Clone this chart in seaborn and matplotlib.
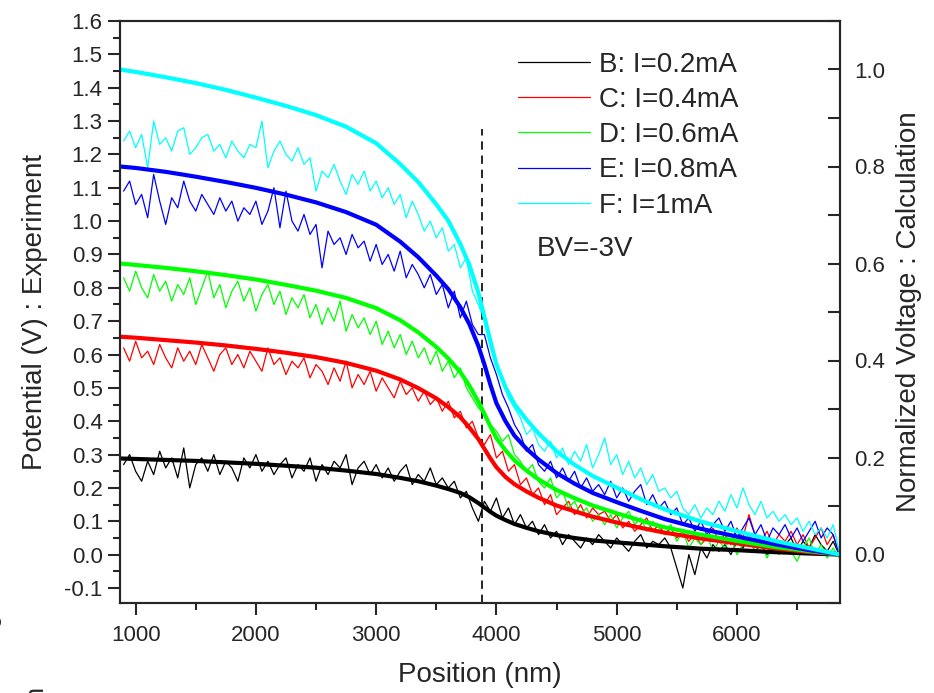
import numpy as np
import matplotlib
matplotlib.use("Agg")
import matplotlib.pyplot as plt
import seaborn as sns
from matplotlib.ticker import MultipleLocator, FormatStrFormatter

sns.set_style("ticks")
plt.rcParams['font.family'] = ['Liberation Sans', 'DejaVu Sans']
plt.rcParams['axes.unicode_minus'] = False

# ---------------- data ----------------
# experimental sample positions (nm)
pos_exp = np.arange(900, 6851, 50)

exp_B = [0.27, 0.30, 0.25, 0.22, 0.28, 0.24, 0.31, 0.26, 0.29, 0.23,
         0.32, 0.20, 0.27, 0.29, 0.25, 0.30, 0.24, 0.28, 0.26, 0.22,
         0.29, 0.26, 0.30, 0.25, 0.28, 0.24, 0.27, 0.29, 0.23, 0.27,
         0.25, 0.29, 0.22, 0.27, 0.24, 0.28, 0.26, 0.30, 0.21, 0.26,
         0.28, 0.24, 0.27, 0.23, 0.26, 0.22, 0.25, 0.27, 0.21, 0.24,
         0.22, 0.26, 0.21, 0.23, 0.20, 0.22, 0.17, 0.19, 0.14, 0.10,
         0.16, 0.13, 0.17, 0.11, 0.14, 0.09, 0.12, 0.08, 0.10, 0.06,
         0.09, 0.05, 0.07, 0.03, 0.06, 0.04, 0.02, 0.05, 0.03, 0.06,
         0.04, 0.02, 0.05, 0.03, 0.01, 0.04, 0.06, 0.02, 0.04, 0.03,
         0.05, 0.02, -0.04, -0.10, 0.00, -0.06, 0.02, -0.01, 0.03, 0.01,
         0.03, 0.00, 0.04, 0.02, 0.05, 0.01, 0.03, 0.00, 0.04, 0.02,
         0.03, 0.05, 0.01, 0.04, 0.02, 0.06, 0.03, 0.01, 0.04, 0.00]

exp_C = [0.62, 0.58, 0.64, 0.59, 0.61, 0.57, 0.63, 0.59, 0.56, 0.62,
         0.58, 0.61, 0.57, 0.63, 0.59, 0.55, 0.60, 0.62, 0.57, 0.60,
         0.56, 0.61, 0.58, 0.55, 0.62, 0.57, 0.59, 0.54, 0.58, 0.56,
         0.59, 0.53, 0.57, 0.55, 0.51, 0.56, 0.52, 0.58, 0.50, 0.54,
         0.51, 0.55, 0.49, 0.53, 0.50, 0.47, 0.52, 0.48, 0.50, 0.46,
         0.49, 0.45, 0.47, 0.43, 0.46, 0.41, 0.43, 0.38, 0.40, 0.35,
         0.33, 0.36, 0.29, 0.31, 0.25, 0.27, 0.21, 0.23, 0.18, 0.20,
         0.15, 0.18, 0.12, 0.14, 0.16, 0.12, 0.15, 0.11, 0.14, 0.12,
         0.13, 0.10, 0.12, 0.08, 0.10, 0.07, 0.09, 0.11, 0.07, 0.09,
         0.06, 0.08, 0.05, 0.07, 0.04, 0.06, 0.03, 0.05, 0.08, 0.04,
         0.06, 0.03, 0.08, 0.05, 0.12, 0.06, 0.04, 0.07, 0.03, 0.06,
         0.04, 0.07, 0.03, 0.06, 0.02, 0.05, 0.08, 0.03, 0.06, 0.00]

exp_D = [0.83, 0.79, 0.85, 0.80, 0.77, 0.84, 0.79, 0.82, 0.76, 0.81,
         0.78, 0.83, 0.75, 0.80, 0.85, 0.77, 0.81, 0.74, 0.79, 0.82,
         0.76, 0.80, 0.73, 0.78, 0.81, 0.75, 0.79, 0.72, 0.77, 0.74,
         0.78, 0.71, 0.75, 0.69, 0.74, 0.70, 0.76, 0.67, 0.72, 0.68,
         0.71, 0.66, 0.70, 0.63, 0.67, 0.62, 0.66, 0.60, 0.64, 0.59,
         0.62, 0.57, 0.61, 0.55, 0.58, 0.53, 0.56, 0.50, 0.47, 0.44,
         0.42, 0.39, 0.37, 0.34, 0.36, 0.30, 0.28, 0.25, 0.27, 0.22,
         0.20, 0.23, 0.17, 0.19, 0.14, 0.16, 0.12, 0.14, 0.10, 0.12,
         0.09, 0.12, 0.08, 0.11, 0.13, 0.09, 0.11, 0.07, 0.10, 0.08,
         0.06, 0.09, 0.04, 0.07, 0.02, 0.05, 0.03, 0.06, 0.01, 0.04,
         0.02, 0.05, 0.00, 0.03, 0.06, 0.01, 0.04, -0.01, 0.03, 0.00,
         0.04, 0.01, -0.02, 0.02, 0.05, 0.00, 0.03, -0.01, 0.02, -0.01]

exp_E = [1.09, 1.12, 1.05, 1.08, 1.01, 1.14, 1.06, 0.99, 1.07, 1.04,
         1.12, 1.06, 1.03, 1.08, 1.05, 1.02, 1.07, 1.03, 1.06, 1.00,
         1.04, 1.02, 1.06, 0.99, 1.03, 1.10, 0.98, 1.09, 1.00, 0.97,
         1.02, 0.96, 0.99, 0.86, 0.97, 0.93, 0.95, 0.90, 0.96, 0.92,
         0.94, 0.88, 0.93, 0.87, 0.90, 0.85, 0.91, 0.83, 0.87, 0.84,
         0.80, 0.84, 0.78, 0.81, 0.74, 0.79, 0.71, 0.76, 0.69, 0.66,
         0.66, 0.59, 0.54, 0.48, 0.44, 0.39, 0.36, 0.31, 0.33, 0.27,
         0.25, 0.28, 0.23, 0.26, 0.22, 0.25, 0.20, 0.23, 0.19, 0.21,
         0.18, 0.22, 0.17, 0.20, 0.16, 0.19, 0.21, 0.15, 0.18, 0.14,
         0.16, 0.12, 0.14, 0.09, 0.11, 0.07, 0.10, 0.06, 0.09, 0.11,
         0.07, 0.10, 0.05, 0.08, 0.11, 0.06, 0.09, 0.04, 0.08, 0.06,
         0.09, 0.05, 0.08, 0.04, 0.07, 0.10, 0.05, 0.08, 0.06, 0.00]

exp_F = [1.24, 1.27, 1.22, 1.26, 1.16, 1.30, 1.23, 1.25, 1.21, 1.27,
         1.28, 1.20, 1.22, 1.25, 1.26, 1.21, 1.23, 1.19, 1.24, 1.21,
         1.19, 1.23, 1.22, 1.30, 1.16, 1.21, 1.24, 1.20, 1.18, 1.22,
         1.17, 1.19, 1.09, 1.15, 1.13, 1.17, 1.12, 1.08, 1.14, 1.11,
         1.15, 1.09, 1.12, 1.07, 1.10, 1.05, 1.08, 1.01, 1.06, 1.02,
         0.97, 1.00, 0.95, 0.98, 0.91, 0.93, 0.86, 0.89, 0.79, 0.75,
         0.70, 0.62, 0.58, 0.52, 0.47, 0.44, 0.41, 0.36, 0.38, 0.33,
         0.31, 0.34, 0.29, 0.32, 0.27, 0.31, 0.28, 0.33, 0.26, 0.30,
         0.35, 0.27, 0.30, 0.24, 0.28, 0.23, 0.26, 0.21, 0.24, 0.19,
         0.20, 0.17, 0.19, 0.14, 0.12, 0.15, 0.11, 0.14, 0.12, 0.16,
         0.13, 0.18, 0.14, 0.20, 0.15, 0.12, 0.16, 0.11, 0.13, 0.10,
         0.12, 0.09, 0.11, 0.07, 0.10, 0.06, 0.08, 0.05, 0.09, 0.01]

# calculated (normalized) curves
pos_calc = [870, 1000, 1250, 1500, 1750, 2000, 2250, 2500, 2750, 3000, 3200,
            3350, 3500, 3600, 3700, 3775, 3850, 3900, 3950, 4000, 4075, 4150,
            4250, 4350, 4500, 4650, 4800, 5000, 5200, 5400, 5700, 6000, 6300,
            6600, 6857]
calc_B = [0.198, 0.197, 0.195, 0.193, 0.190, 0.187, 0.183, 0.179, 0.173, 0.166,
          0.158, 0.151, 0.142, 0.135, 0.127, 0.118, 0.106, 0.097, 0.088, 0.080,
          0.071, 0.063, 0.055, 0.048, 0.040, 0.034, 0.029, 0.025, 0.021, 0.017,
          0.012, 0.009, 0.005, 0.002, 0.000]
calc_C = [0.449, 0.447, 0.442, 0.437, 0.431, 0.424, 0.416, 0.407, 0.395, 0.379,
          0.361, 0.343, 0.322, 0.304, 0.283, 0.262, 0.238, 0.218, 0.198, 0.180,
          0.160, 0.145, 0.130, 0.117, 0.101, 0.089, 0.078, 0.066, 0.055, 0.045,
          0.033, 0.023, 0.013, 0.005, 0.000]
calc_D = [0.600, 0.597, 0.591, 0.584, 0.576, 0.567, 0.556, 0.544, 0.529, 0.508,
          0.483, 0.458, 0.428, 0.404, 0.376, 0.348, 0.315, 0.290, 0.264, 0.240,
          0.215, 0.194, 0.173, 0.155, 0.133, 0.116, 0.101, 0.085, 0.070, 0.056,
          0.041, 0.028, 0.016, 0.007, 0.000]
calc_E = [0.800, 0.797, 0.789, 0.779, 0.768, 0.756, 0.742, 0.726, 0.706, 0.680,
          0.645, 0.613, 0.575, 0.547, 0.510, 0.475, 0.430, 0.392, 0.350, 0.312,
          0.275, 0.245, 0.218, 0.196, 0.168, 0.146, 0.127, 0.108, 0.090, 0.073,
          0.053, 0.037, 0.022, 0.009, 0.000]
calc_F = [1.000, 0.995, 0.984, 0.972, 0.958, 0.942, 0.925, 0.906, 0.882, 0.848,
          0.805, 0.768, 0.722, 0.688, 0.640, 0.597, 0.540, 0.490, 0.440, 0.392,
          0.345, 0.310, 0.278, 0.250, 0.213, 0.185, 0.162, 0.138, 0.114, 0.093,
          0.068, 0.048, 0.029, 0.013, 0.000]

labels = ["B: I=0.2mA", "C: I=0.4mA", "D: I=0.6mA", "E: I=0.8mA", "F: I=1mA"]
colors = ["#000000", "#FF0000", "#00FF00", "#0000FF", "#00FFFF"]
exp_series = [exp_B, exp_C, exp_D, exp_E, exp_F]
calc_series = [calc_B, calc_C, calc_D, calc_E, calc_F]
junction_pos = 3880

# ---------------- figure ----------------
fig = plt.figure(figsize=(9.34, 6.93), dpi=100)
ax = fig.add_axes([120/934, 90/693, 720/934, 582/693])

for ys, c, lab in zip(exp_series, colors, labels):
    sns.lineplot(x=pos_exp, y=ys, ax=ax, color=c, lw=0.9, label=lab)

ax.axvline(junction_pos, ymin=0, ymax=0.815, color="black", lw=1.2,
           ls=(0, (5, 3.5)))

ax.set_xlim(870, 6857)
ax.set_ylim(-0.145, 1.6)
ax.xaxis.set_major_locator(MultipleLocator(1000))
ax.xaxis.set_minor_locator(MultipleLocator(500))
ax.yaxis.set_major_locator(MultipleLocator(0.1))
ax.yaxis.set_minor_locator(MultipleLocator(0.05))
ax.yaxis.set_major_formatter(FormatStrFormatter('%.1f'))
ax.tick_params(which='major', direction='out', length=8.5, width=1.5,
               labelsize=16, pad=4)
ax.tick_params(axis='x', which='major', pad=7)
ax.tick_params(which='minor', direction='out', length=5, width=1.5)
ax.set_xlabel("Position (nm)", fontsize=20, labelpad=12)
ax.set_ylabel("Potential (V) : Experiment", fontsize=20, labelpad=12)
for s in ax.spines.values():
    s.set_linewidth(1.5)

ax2 = ax.twinx()
for ys, c in zip(calc_series, colors):
    sns.lineplot(x=pos_calc, y=ys, ax=ax2, color=c, lw=3.0)
ax2.set_ylim(-0.1, 1.1)
ax2.yaxis.set_major_locator(MultipleLocator(0.2))
ax2.yaxis.set_minor_locator(MultipleLocator(0.1))
ax2.yaxis.set_major_formatter(FormatStrFormatter('%.1f'))
ax2.tick_params(which='major', direction='in', length=8.5, width=1.5,
                labelsize=16, pad=10)
ax2.tick_params(which='minor', direction='in', length=8.5, width=1.5)
ax2.set_ylabel("Normalized Voltage : Calculation", fontsize=20, labelpad=8)
for s in ax2.spines.values():
    s.set_linewidth(1.5)

leg = ax.legend(loc='upper left', bbox_to_anchor=(0.553, 0.947), frameon=False,
                fontsize=20, handlelength=2.6, handletextpad=0.3,
                labelspacing=0.33, borderpad=0, borderaxespad=0)

ax.text(0.579, 0.608, "BV=-3V", transform=ax.transAxes, fontsize=20,
        va='center', ha='left')

# clipped text fragments at the left edge of the original picture
fig.text(-0.006, 0.105, "o", fontsize=18, rotation=90, ha='center', va='center')
fig.text(0.038, 0.0, "n", fontsize=18, rotation=90, ha='center', va='center')

fig.savefig("out.png", dpi=100)
